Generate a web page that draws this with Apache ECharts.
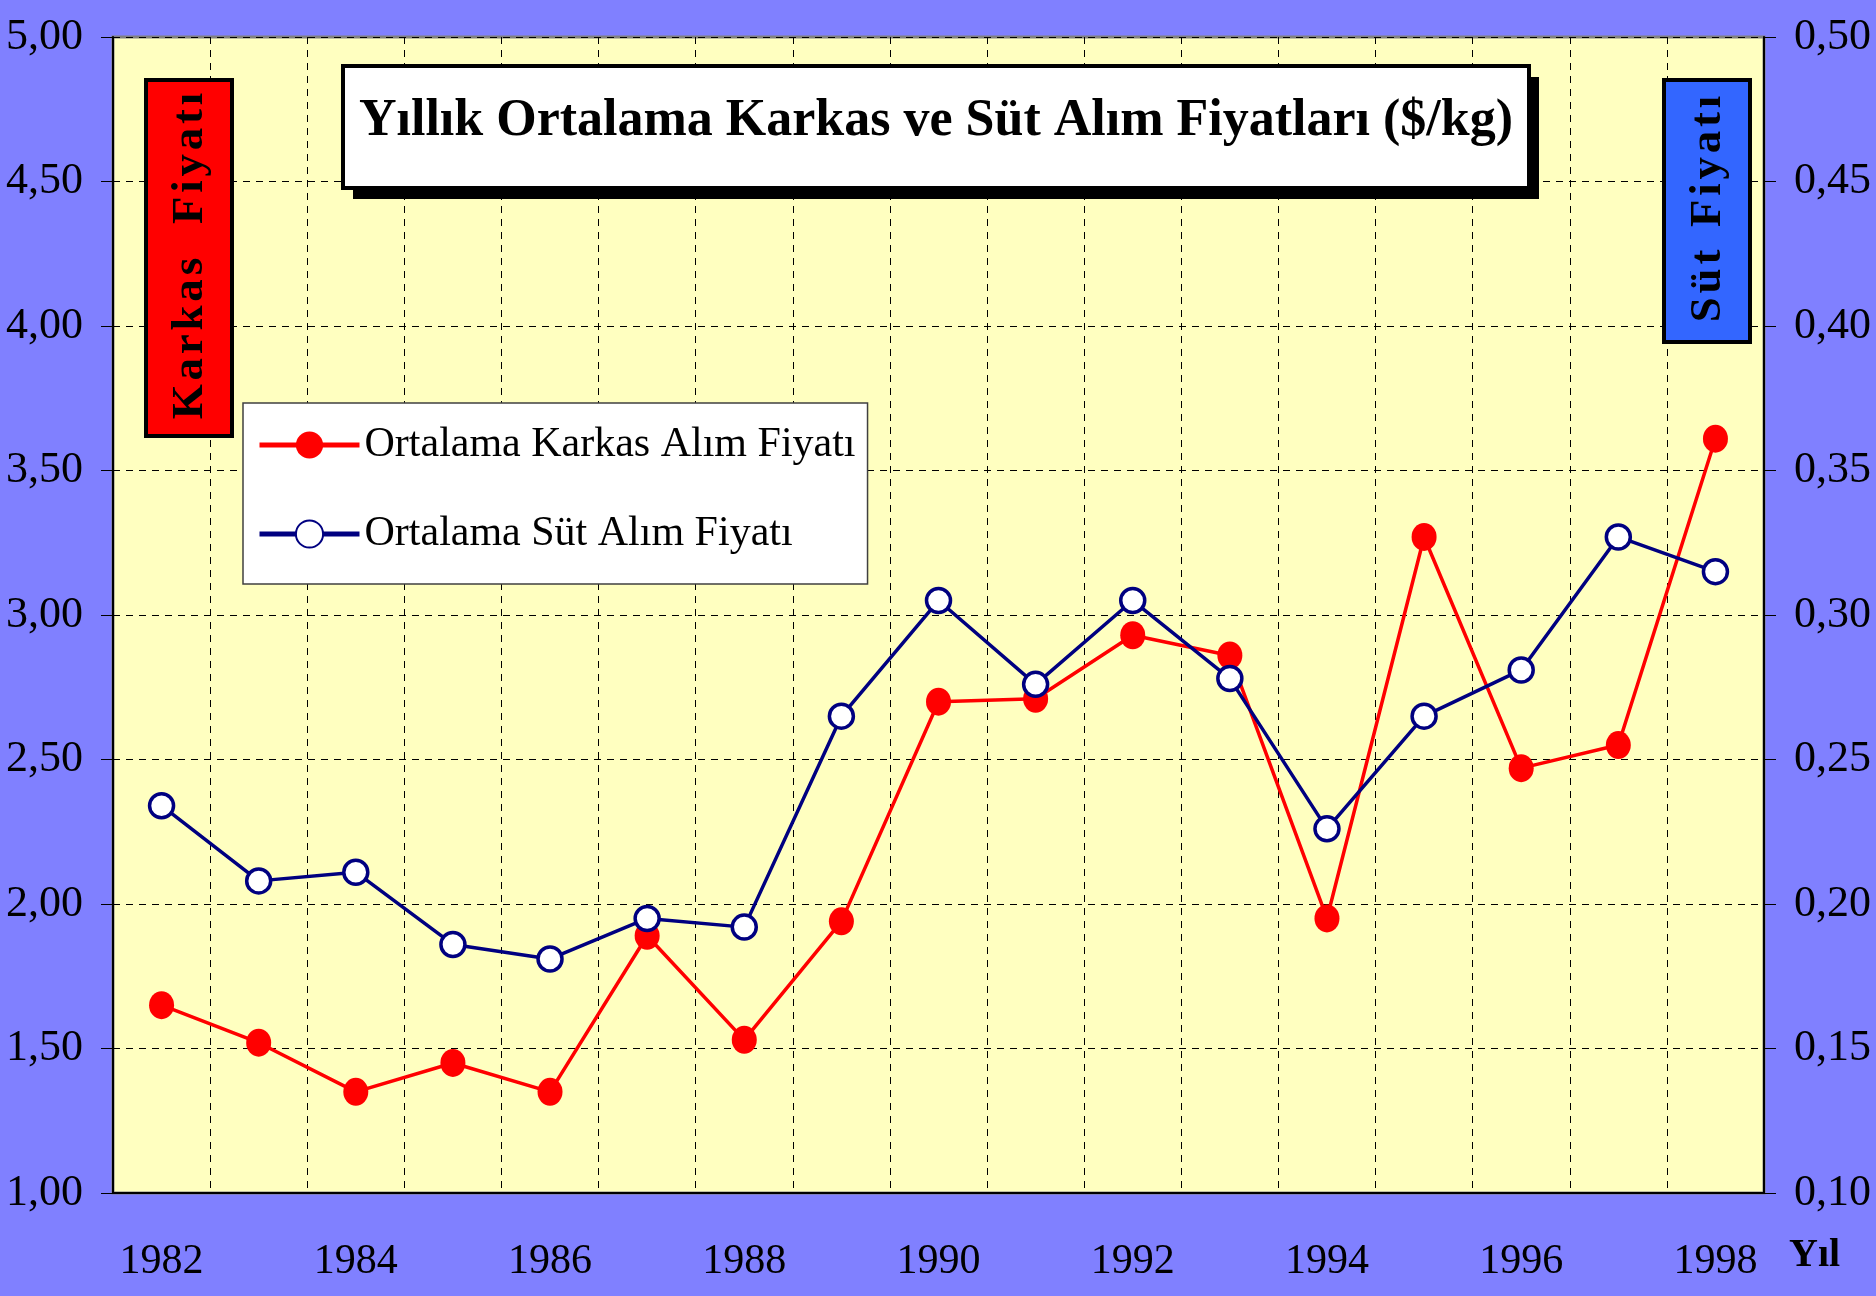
<!DOCTYPE html>
<html>
<head>
<meta charset="utf-8">
<title>Yıllık Ortalama Karkas ve Süt Alım Fiyatları</title>
<script src="https://cdn.jsdelivr.net/npm/echarts@6/dist/echarts.min.js"></script>
<style>
    html, body { margin: 0; padding: 0; background: #8080FF; }
    #chart { width: 1876px; height: 1296px; }
</style>
</head>
<body>
<div id="chart"></div>
<script>
    var SERIF = "'Liberation Serif', 'Times New Roman', serif";
    var HS = '\u200A';

    // yillar
    var years = ['1982', '1983', '1984', '1985', '1986', '1987', '1988', '1989', '1990',
        '1991', '1992', '1993', '1994', '1995', '1996', '1997', '1998'];
    // karkas fiyati ($/kg) - sol eksen
    var karkas = [1.65, 1.52, 1.35, 1.45, 1.35, 1.89, 1.53, 1.94, 2.70,
        2.71, 2.93, 2.86, 1.95, 3.27, 2.47, 2.55, 3.61];
    // sut fiyati ($/kg) - sag eksen
    var sut = [0.234, 0.208, 0.211, 0.186, 0.181, 0.195, 0.192, 0.265, 0.305,
        0.276, 0.305, 0.278, 0.226, 0.265, 0.281, 0.327, 0.315];
    // eksen sinirlari
    var leftTicks = [1.00, 5.00, 0.50];
    var rightTicks = [0.10, 0.50, 0.05];

    var fmt = function(v) {
        return v.toFixed(2).replace('.', ',');
    };

    // harf aralarina ince bosluk
    var spaced = function(s, gap) {
        return s.split(' ').map(function(w) {
            return w.split('').join(HS);
        }).join(gap);
    };

    var myChart = echarts.init(document.getElementById('chart'));

    var option = {
        animation: false,
        backgroundColor: '#8080FF',
        grid: {
            left: 113,
            right: 112,
            top: 37,
            bottom: 103,
            show: true,
            backgroundColor: '#FFFFC0',
            borderColor: '#808080',
            borderWidth: 3
        },
        legend: {
            orient: 'vertical',
            left: 243,
            top: 403,
            padding: [18, 12, 26, 14],
            itemGap: 41,
            itemWidth: 100,
            itemHeight: 34,
            backgroundColor: '#FFFFFF',
            borderColor: '#404040',
            borderWidth: 1.5,
            lineStyle: { width: 5 },
            textStyle: {
                fontFamily: SERIF,
                fontSize: 42,
                lineHeight: 48,
                color: '#000'
            },
            data: ['Ortalama Karkas Alım Fiyatı', 'Ortalama Süt Alım Fiyatı']
        },
        xAxis: {
            type: 'category',
            data: years,
            boundaryGap: true,
            axisLine: { lineStyle: { color: '#000', width: 2 } },
            axisTick: { interval: 0, length: 15, lineStyle: { color: '#000' } },
            splitLine: {
                show: true,
                interval: 0,
                lineStyle: { color: '#000', type: [7, 6], width: 1 }
            },
            axisLabel: {
                interval: 1,
                margin: 48,
                fontFamily: SERIF,
                fontSize: 42,
                color: '#000'
            }
        },
        yAxis: [{
            type: 'value',
            min: leftTicks[0],
            max: leftTicks[1],
            interval: leftTicks[2],
            axisLine: { show: true, lineStyle: { color: '#000', width: 2 } },
            axisTick: { show: true, length: 12, lineStyle: { color: '#000' } },
            splitLine: { lineStyle: { color: '#000', type: [7, 6], width: 1 } },
            axisLabel: {
                margin: 30,
                fontFamily: SERIF,
                fontSize: 44,
                color: '#000',
                padding: [0, 0, 8, 0],
                formatter: fmt
            }
        }, {
            type: 'value',
            position: 'right',
            min: rightTicks[0],
            max: rightTicks[1],
            interval: rightTicks[2],
            axisLine: { show: true, lineStyle: { color: '#000', width: 2 } },
            axisTick: { show: true, length: 12, lineStyle: { color: '#000' } },
            splitLine: { show: false },
            axisLabel: {
                margin: 30,
                fontFamily: SERIF,
                fontSize: 44,
                color: '#000',
                padding: [0, 0, 8, 0],
                formatter: fmt
            }
        }],
        series: [{
            name: 'Ortalama Karkas Alım Fiyatı',
            type: 'line',
            yAxisIndex: 0,
            data: karkas,
            symbol: 'circle',
            symbolSize: [25, 28],
            lineStyle: { color: '#FF0000', width: 3.5 },
            itemStyle: { color: '#FF0000' },
            z: 3
        }, {
            name: 'Ortalama Süt Alım Fiyatı',
            type: 'line',
            yAxisIndex: 1,
            data: sut,
            symbol: 'circle',
            symbolSize: 24,
            lineStyle: { color: '#000080', width: 3.5 },
            itemStyle: { color: '#FFFFFF', borderColor: '#000080', borderWidth: 3.5 },
            z: 4
        }],
        graphic: [
            // baslik kutusu
            { type: 'rect', z: 10, shape: { x: 353, y: 77, width: 1186, height: 122 }, style: { fill: '#000' } },
            { type: 'rect', z: 11, shape: { x: 343, y: 66, width: 1186, height: 122 }, style: { fill: '#FFF', stroke: '#000', lineWidth: 4 } },
            {
                type: 'text', z: 12, x: 936, y: 122,
                style: {
                    text: 'Yıllık Ortalama Karkas ve Süt Alım Fiyatları ($/kg)',
                    font: 'bold 52px ' + SERIF,
                    fill: '#000',
                    align: 'center',
                    verticalAlign: 'middle'
                }
            },
            // sol etiket
            { type: 'rect', z: 10, shape: { x: 146, y: 80, width: 86, height: 356 }, style: { fill: '#FF0000', stroke: '#000', lineWidth: 4 } },
            {
                type: 'text', z: 12, x: 190, y: 256, rotation: Math.PI / 2,
                style: {
                    text: spaced('Karkas Fiyatı', '   '),
                    font: 'bold 45px ' + SERIF,
                    fill: '#000',
                    align: 'center',
                    verticalAlign: 'middle'
                }
            },
            // sag etiket
            { type: 'rect', z: 10, shape: { x: 1664, y: 80, width: 86, height: 262 }, style: { fill: '#3366FF', stroke: '#000', lineWidth: 4 } },
            {
                type: 'text', z: 12, x: 1708, y: 209, rotation: Math.PI / 2,
                style: {
                    text: spaced('Süt Fiyatı', '  '),
                    font: 'bold 45px ' + SERIF,
                    fill: '#000',
                    align: 'center',
                    verticalAlign: 'middle'
                }
            },
            // eksen adi
            {
                type: 'text', z: 12, x: 1789, y: 1256,
                style: {
                    text: 'Yıl',
                    font: 'bold 40px ' + SERIF,
                    fill: '#000',
                    align: 'left',
                    verticalAlign: 'middle'
                }
            }
        ]
    };

    myChart.setOption(option);
</script>
</body>
</html>
